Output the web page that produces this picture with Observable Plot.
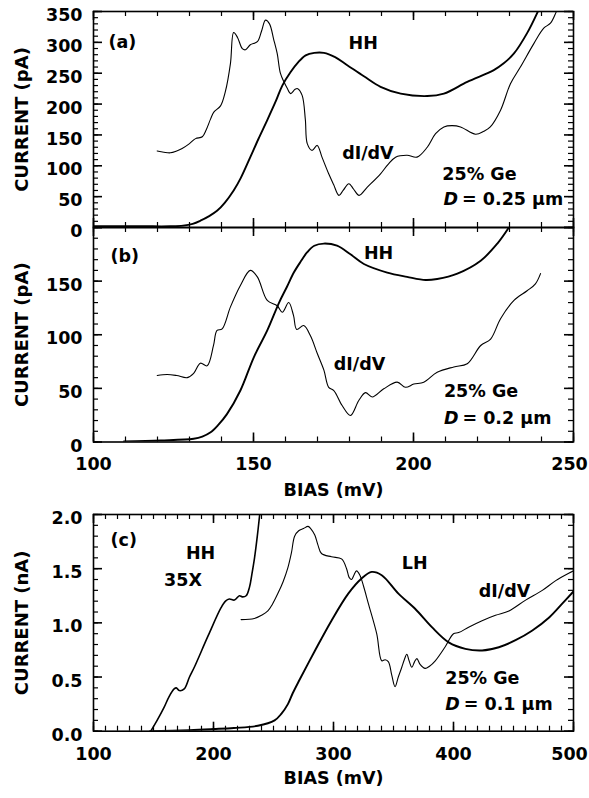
<!DOCTYPE html>
<html>
<head>
<meta charset="utf-8">
<script src="https://cdn.jsdelivr.net/npm/d3@7"></script>
<script src="https://cdn.jsdelivr.net/npm/@observablehq/plot@0.6"></script>
<style>
  html, body { margin: 0; padding: 0; background: #fff; }
  #chart { position: relative; width: 589px; height: 798px; background: #fff; overflow: hidden; }
  #chart > div { position: absolute; left: 0; }
</style>
</head>
<body>
<div id="chart"></div>
<script>
// ---------- data (bias in mV, current in pA / nA) ----------
const aHH = [[100,2],[115,2],[124,2],[128,3],[131,6],[133.4,11],[136,18],[138.6,27],[141,40],[143.8,60],[146,80],[149,114],[151.5,143],[154.3,174],[157,205],[159,230],[161.6,252],[164,268],[166.3,279],[169,283],[172,283],[175.5,276],[179.3,263],[184.5,245],[189.7,228],[196,217],[204.3,213],[209.5,217],[216.8,236],[225.1,255],[228.2,266],[231.4,282],[235.5,315],[238.6,347],[239.5,358]];
const aDIDV = [[119.9,124],[122,122],[124,121],[126,124],[127.7,128],[130,136],[131.9,144],[134,147],[135.2,158],[136.6,176],[137.6,187],[139.7,197],[141.2,220],[142.8,266],[143.8,316],[145,308],[146.5,290],[147.5,288],[149,296],[151.2,301],[152.5,318],[153.75,336],[155,330],[156.3,305],[157.4,282],[158.4,250],[159.5,236],[160.5,226],[161.6,217],[163,224],[163.8,225],[165.2,214],[166.2,175],[166.8,136],[168.3,125],[169.9,133],[171.4,114],[173.5,87],[175,70],[176.7,52],[178,60],[179.8,71],[181.3,62],[183,52],[185.5,65],[189.7,87],[192,102],[194.4,114],[198,117],[201.1,114],[204.3,130],[206.9,152],[209.5,163],[212,165],[214.7,163],[219.4,151],[222,156],[224,163],[227.2,190],[230.3,233],[233.4,260],[237.6,298],[240.7,323],[242.8,331],[244.4,347],[245,356]];

const bHH = [[109.5,0.5],[121,1.4],[131.3,3],[134,5],[136.6,9],[139,16],[141.7,26],[145.9,48],[150.1,79],[154.3,104],[158,130],[160.5,145],[162.6,158],[164.7,168],[166.8,177],[169,183],[172,185],[176.1,183],[180.3,175],[184.5,166],[191.8,158],[198,154],[203.8,151],[207.4,152],[213.7,157],[221,169],[226.2,185],[229.8,200],[231,206]];
const bDIDV = [[119.9,62],[123,63],[126,62],[129.3,60],[131.3,64],[133.4,73.5],[135.5,71],[137.5,90],[138.6,104],[140.2,105.5],[142.8,126],[145.9,146],[149,160],[151.2,154],[154.3,132],[157.4,127],[159,121],[161,130],[162.5,118],[163.5,105],[165.7,108.6],[167.8,99],[170,82],[172,67],[173.5,51],[175.1,48],[177.7,34],[180.3,24.7],[182.9,38.7],[185,46],[187.1,42],[190.7,49.6],[194.9,55.8],[197.5,51],[200.1,54],[203.2,55.8],[207.4,65],[212.6,70],[216.8,73],[221,90],[224.1,96],[227.2,115],[231.4,132],[235.5,141],[238.1,147.5],[239.7,157]];

const cHH35 = [[147.7,0],[153,0.1],[158.8,0.22],[163,0.32],[167.2,0.39],[169,0.40],[171.4,0.375],[175.6,0.39],[180,0.5],[184,0.59],[195.1,0.87],[206.3,1.14],[210,1.2],[213.2,1.22],[217.4,1.21],[221.6,1.25],[224,1.24],[227.2,1.25],[230,1.33],[232,1.45],[234.2,1.6],[236.5,1.8],[238.4,1.99],[239,2.05]];
const cLH = [[147,0],[180,0.01],[200,0.02],[217,0.03],[237,0.05],[250.9,0.1],[256.5,0.16],[262,0.25],[266,0.35],[271.5,0.47],[284.4,0.74],[298.3,1.02],[312.3,1.27],[323.4,1.41],[331.8,1.47],[340.2,1.44],[354.1,1.27],[368,1.13],[382,0.96],[396,0.82],[409.9,0.76],[423.8,0.745],[437.8,0.775],[451.7,0.84],[465.7,0.93],[479.7,1.05],[490.8,1.18],[499.2,1.28],[500,1.29]];
const cDIDV = [[223,1.03],[234,1.04],[240,1.07],[245.3,1.11],[249,1.17],[253.6,1.27],[258,1.38],[262,1.51],[265,1.65],[267.6,1.80],[271,1.85],[275,1.87],[278.8,1.89],[281,1.87],[284.4,1.81],[287,1.72],[290,1.64],[298.3,1.61],[306.7,1.59],[310.9,1.50],[313,1.42],[315.1,1.40],[317,1.44],[319.2,1.48],[322,1.44],[325,1.34],[329,1.18],[336,0.90],[340.2,0.65],[343,0.66],[345.8,0.64],[348.5,0.52],[351.3,0.41],[354,0.50],[356.9,0.59],[359,0.66],[361.1,0.71],[363,0.65],[365.3,0.59],[367.5,0.64],[369.5,0.67],[372,0.62],[376.4,0.58],[380,0.60],[384.8,0.65],[393.1,0.78],[400,0.90],[404.3,0.91],[412.6,0.96],[423.8,1.02],[435,1.07],[446.2,1.11],[460.1,1.21],[474,1.30],[485.2,1.39],[496.4,1.46],[500,1.48]];

// tick values
const xTicksAB = [100, 150, 200, 250];
const xTicksC = [100, 200, 300, 400, 500];
const yTicksA = [0, 50, 100, 150, 200, 250, 300, 350];
const yTicksB = [0, 50, 100, 150];
const yTicksC = [0, 0.5, 1.0, 1.5, 2.0];

// annotations (data coordinates)
const notesA = [{x:104.7,y:300,t:"(a)"},{x:179.7,y:298,t:"HH"},{x:177.7,y:120,t:"dI/dV"},{x:209,y:86,t:"25% Ge"}];
const notesB = [{x:105.3,y:173,t:"(b)"},{x:184.5,y:176,t:"HH"},{x:175.1,y:72,t:"dI/dV"},{x:209.5,y:47.5,t:"25% Ge"}];
const notesC = [{x:114.2,y:1.76,t:"(c)"},{x:177,y:1.64,t:"HH"},{x:158.8,y:1.39,t:"35X"},{x:356.9,y:1.55,t:"LH"},{x:421,y:1.29,t:"dI/dV"},{x:393.1,y:0.49,t:"25% Ge"}];
const dA = [{x:209.4,y:45.5,t:"= 0.25 µm"}];
const dB = [{x:209.5,y:22.4,t:"= 0.2 µm"}];
const dC = [{x:393.1,y:0.246,t:"= 0.1 µm"}];

// ---------- drawing ----------
const FONT = "'DejaVu Sans', sans-serif";
const W = 589, ML = 93, MR = 16;
const range = (lo, hi, step) => d3.range(Math.round((hi - lo) / step) + 1).map(i => +(lo + i * step).toFixed(6));

function panel(o) {
  const plotH = o.height - o.mt - o.mb;
  const plotW = W - ML - MR;
  const [x0, x1] = o.xDomain, [y0, y1] = o.yDomain;
  const kx = (x1 - x0) / plotW, ky = (y1 - y0) / plotH; // data units per pixel
  const marks = [];
  // inward ticks on all four sides (lengths converted to data units)
  for (const [vals, len, sw] of [[o.xMinor, 5, 1.2], [o.xMajor, 9, 1.6]]) {
    marks.push(Plot.ruleX(vals, {x: d => d, y1: y0, y2: y0 + len * ky, stroke: "#000", strokeWidth: sw}));
    marks.push(Plot.ruleX(vals, {x: d => d, y1: y1 - len * ky, y2: y1, stroke: "#000", strokeWidth: sw}));
  }
  for (const [vals, len, sw] of [[o.yMinor, 5, 1.2], [o.yMajor, 9, 1.6]]) {
    marks.push(Plot.ruleY(vals, {y: d => d, x1: x0, x2: x0 + len * kx, stroke: "#000", strokeWidth: sw}));
    marks.push(Plot.ruleY(vals, {y: d => d, x1: x1 - len * kx, x2: x1, stroke: "#000", strokeWidth: sw}));
  }
  marks.push(Plot.axisY(o.yLabels, {anchor: "left", tickSize: 0, tickPadding: 11, dy: 4, tickFormat: o.yFormat, label: null}));
  if (o.xLabels) {
    const last = o.xLabels[o.xLabels.length - 1];
    marks.push(Plot.axisX(o.xLabels.slice(0, -1), {anchor: "bottom", tickSize: 0, tickPadding: 16, label: null}));
    marks.push(Plot.axisX([last], {anchor: "bottom", tickSize: 0, tickPadding: 16, dx: -4, label: null}));
  }
  for (const s of o.series) {
    marks.push(Plot.line(s.data, {x: d => d[0], y: d => d[1], curve: "catmull-rom", stroke: "#000", strokeWidth: s.w, clip: true}));
  }
  marks.push(Plot.frame({stroke: "#000", strokeWidth: 1.6}));
  marks.push(Plot.text(o.notes, {x: "x", y: "y", text: "t", textAnchor: "start", fill: "#000"}));
  marks.push(Plot.text(o.dnotes, {x: "x", y: "y", text: () => "D", fontStyle: "italic", textAnchor: "start", fill: "#000"}));
  marks.push(Plot.text(o.dnotes, {x: "x", y: "y", text: "t", dx: 18.5, textAnchor: "start", fill: "#000"}));
  marks.push(Plot.text([o.yTitle], {frameAnchor: "left", textAnchor: "middle", lineAnchor: "middle", rotate: -90, dx: -71, dy: o.yTitleDy || 0, fontSize: 18, fill: "#000"}));
  if (o.xTitle) marks.push(Plot.text([o.xTitle], {frameAnchor: "bottom", textAnchor: "middle", lineAnchor: "middle", dy: o.xTitleDy, fill: "#000"}));

  const svg = Plot.plot({
    width: W,
    height: o.height,
    marginLeft: ML,
    marginRight: MR,
    marginTop: o.mt,
    marginBottom: o.mb,
    x: o.xLabels ? {domain: o.xDomain} : {domain: o.xDomain, axis: null},
    y: {domain: o.yDomain},
    style: `background: transparent; overflow: visible; font-family: ${FONT}; font-size: 17.5px; font-weight: bold; color: #000;`,
    marks
  });
  const wrap = document.createElement("div");
  wrap.style.top = o.top + "px";
  wrap.appendChild(svg);
  document.getElementById("chart").appendChild(wrap);
}

panel({
  top: 0, height: 240, mt: 11, mb: 13,
  xDomain: [100, 250], yDomain: [0, 350],
  xMajor: xTicksAB, xMinor: range(100, 250, 10),
  yMajor: yTicksA, yMinor: range(0, 350, 10),
  yLabels: yTicksA, yFormat: d3.format("d"),
  series: [{data: aHH, w: 1.9}, {data: aDIDV, w: 1.1}],
  notes: notesA, dnotes: dA,
  yTitle: "CURRENT (pA)"
});

panel({
  top: 200, height: 310, mt: 27, mb: 68.5,
  xDomain: [100, 250], yDomain: [0, 200],
  xMajor: xTicksAB, xMinor: range(100, 250, 10),
  yMajor: [0, 50, 100, 150, 200], yMinor: range(0, 200, 10),
  yLabels: yTicksB, yFormat: d3.format("d"),
  xLabels: xTicksAB,
  series: [{data: bHH, w: 1.9}, {data: bDIDV, w: 1.1}],
  notes: notesB, dnotes: dB,
  yTitle: "CURRENT (pA)",
  xTitle: "BIAS (mV)", xTitleDy: 48.5
});

panel({
  top: 500, height: 298, mt: 14, mb: 67.3,
  xDomain: [100, 500], yDomain: [0, 2],
  xMajor: xTicksC, xMinor: range(100, 500, 10),
  yMajor: yTicksC, yMinor: range(0, 2, 0.1),
  yLabels: yTicksC, yFormat: d3.format(".1f"),
  xLabels: xTicksC,
  series: [{data: cHH35, w: 1.6}, {data: cLH, w: 1.9}, {data: cDIDV, w: 1.1}],
  notes: notesC, dnotes: dC,
  yTitle: "CURRENT (nA)",
  xTitle: "BIAS (mV)", xTitleDy: 47.5
});
</script>
</body>
</html>
